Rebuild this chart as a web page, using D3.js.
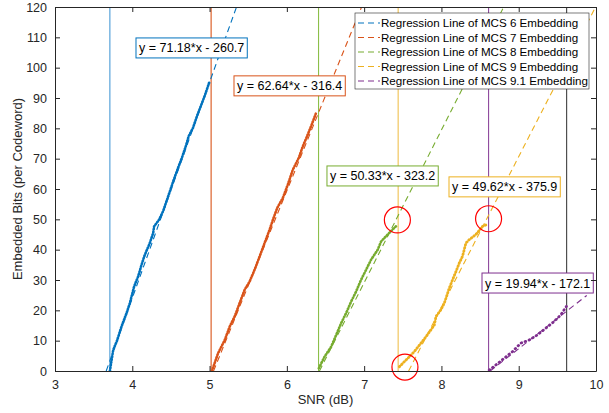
<!DOCTYPE html>
<html>
<head>
<meta charset="utf-8">
<script src="https://cdn.jsdelivr.net/npm/d3@7"></script>
<style>
  body { margin: 0; background: #fff; }
  svg text { font-family: "Liberation Sans", Arial, Helvetica, sans-serif; fill: #262626; }
</style>
</head>
<body>
<div id="chart"></div>
<script>
// series names and colours
var seriesNames = ["MCS 6", "MCS 7", "MCS 8", "MCS 9", "MCS 9.1"];
var seriesColors = ["#0072BD", "#D95319", "#77AC30", "#EDB120", "#7E2F8E"];

var mcs6 = [[3.71,0],[3.753,6.9],[3.805,10.2],[3.861,14.7],[3.926,19.1],[3.969,22.4],[4.024,27.9],[4.076,31.2],[4.133,36.1],[4.162,38.3],[4.227,42.2],[4.27,45.5],[4.283,47.7],[4.347,49.9],[4.399,52.7],[4.443,56.0],[4.494,59.8],[4.537,63.1],[4.593,67.0],[4.649,70.8],[4.692,74.1],[4.731,77.5],[4.786,80.2],[4.838,84.1],[4.895,87.9],[4.937,90.7],[5.002,95.6]];
var mcs7 = [[5.03,0],[5.109,5.8],[5.196,10.2],[5.26,14.6],[5.325,18.0],[5.389,22.4],[5.454,26.8],[5.518,29.5],[5.583,33.4],[5.648,37.8],[5.712,42.2],[5.777,46.6],[5.82,49.9],[5.876,53.8],[5.949,57.1],[6.013,61.5],[6.078,66.4],[6.155,70.3],[6.207,74.1],[6.263,77.5],[6.315,80.8],[6.38,85.2]];
var mcs8 = [[6.414,0.9],[6.487,4.7],[6.573,8.0],[6.638,11.9],[6.703,15.8],[6.767,19.1],[6.832,22.9],[6.896,26.2],[6.961,30.1],[7.026,33.4],[7.09,36.7],[7.176,40.0],[7.219,42.7],[7.305,45.0],[7.391,47.2],[7.42,47.9]];
var mcs9 = [[7.456,1.4],[7.52,3.1],[7.585,4.7],[7.649,6.4],[7.736,9.2],[7.80,11.3],[7.865,13.6],[7.908,15.2],[7.93,18.0],[7.994,20.2],[8.037,22.4],[8.059,24.0],[8.101,27.3],[8.145,30.1],[8.188,32.8],[8.231,35.6],[8.273,37.8],[8.295,40.0],[8.317,42.2],[8.36,43.3],[8.446,45.0],[8.532,47.7],[8.59,48.3]];
var mcs91 = [[8.618,0.3],[8.705,2.0],[8.812,4.2],[8.919,6.4],[9.027,9.2],[9.135,10.2],[9.242,11.9],[9.35,14.1],[9.457,16.3],[9.544,18.5],[9.617,21.3]];
var seriesPoints = [mcs6, mcs7, mcs8, mcs9, mcs91];

// regression fits: slope, intercept, x end of drawn line
var slopes = [71.18, 62.64, 50.33, 49.62, 19.94];
var intercepts = [-260.7, -316.4, -323.2, -375.9, -172.1];
var fitEnds = [5.35, 6.97, 8.81, 9.99, 9.88];

// vertical threshold lines
var thresholds = [3.71, 5.02, 6.41, 7.44, 8.61, 9.62];
var thresholdColors = ["#4A9BD6", "#D95319", "#8CBF4A", "#F0C050", "#8E4A9E", "#404040"];

// annotation boxes: top-left corner in data units
var labelPos = [[4.048, 109.8], [5.316, 97.3], [6.519, 67.6], [8.098, 64.0], [8.525, 32.3]];

// red circles (data units)
var circles = [[7.43, 49.8], [8.61, 50.2], [7.528, 1.3]];

var xTicks = [3, 4, 5, 6, 7, 8, 9, 10];
var yTicks = d3.range(0, 121, 10);

var width = 609, height = 413;
var margin = { top: 7, right: 13, bottom: 42, left: 55 };
var plotW = width - margin.left - margin.right;
var plotH = height - margin.top - margin.bottom;

var svg = d3.select("#chart").append("svg")
  .attr("width", width)
  .attr("height", height);

var x = d3.scaleLinear().domain([3, 10]).range([0, plotW]);
var y = d3.scaleLinear().domain([0, 120]).range([plotH, 0]);

svg.append("defs").append("clipPath").attr("id", "clip")
  .append("rect").attr("width", plotW).attr("height", plotH);

var chart = svg.append("g")
  .attr("transform", "translate(" + margin.left + "," + margin.top + ")");

var plot = chart.append("g").attr("clip-path", "url(#clip)");

// threshold lines
plot.selectAll(".thr").data(thresholds).enter().append("line")
  .attr("x1", d => x(d)).attr("x2", d => x(d))
  .attr("y1", 0).attr("y2", plotH)
  .attr("stroke", (d, i) => thresholdColors[i])
  .attr("stroke-width", 1.1);

var line = d3.line().x(d => x(d[0])).y(d => y(d[1]));

// measured points, drawn as dense dot markers
var dotPattern = ["0.8 2", "0.8 2", "0.8 2.2", "0.6 2.6", "0.6 3.6"];
seriesPoints.forEach(function(pts, i) {
  plot.append("path")
    .attr("d", line(pts))
    .attr("fill", "none")
    .attr("stroke", seriesColors[i])
    .attr("stroke-width", i >= 3 ? 2.8 : 2.6)
    .attr("stroke-linecap", "round")
    .attr("stroke-dasharray", dotPattern[i]);
});

// regression lines
slopes.forEach(function(m, i) {
  var x0 = -intercepts[i] / m;
  var x1 = fitEnds[i];
  plot.append("path")
    .attr("d", line([[x0, 0], [x1, m * x1 + intercepts[i]]]))
    .attr("fill", "none")
    .attr("stroke", seriesColors[i])
    .attr("stroke-width", 1.1)
    .attr("stroke-dasharray", "6 4");
});

// red circles
chart.selectAll(".circ").data(circles).enter().append("circle")
  .attr("cx", d => x(d[0])).attr("cy", d => y(d[1]))
  .attr("r", 13)
  .attr("fill", "none")
  .attr("stroke", "#FF0000")
  .attr("stroke-width", 1.2);

// annotation labels
slopes.forEach(function(m, i) {
  var txt = "y = " + m.toFixed(2) + "*x - " + (-intercepts[i]).toFixed(1);
  var g = chart.append("g")
    .attr("transform", "translate(" + x(labelPos[i][0]) + "," + y(labelPos[i][1]) + ")");
  var rect = g.append("rect")
    .attr("height", 20)
    .attr("fill", "#fff")
    .attr("stroke", seriesColors[i])
    .attr("stroke-width", 1);
  var t = g.append("text")
    .attr("x", 3)
    .attr("y", 14.5)
    .style("font-size", "12.5px")
    .style("fill", "#000")
    .text(txt);
  rect.attr("width", t.node().getComputedTextLength() + 6);
});

// axes with inward ticks on all four sides
var axisColor = "#262626";
function styleAxis(g) {
  g.selectAll("path").attr("stroke", axisColor);
  g.selectAll("line").attr("stroke", axisColor);
  g.selectAll("text").style("font-size", "12.5px").style("fill", axisColor);
}
chart.append("g").attr("transform", "translate(0," + plotH + ")")
  .call(d3.axisBottom(x).tickValues(xTicks).tickSizeInner(-5).tickSizeOuter(0).tickPadding(9).tickFormat(d3.format("d")))
  .call(styleAxis);
chart.append("g")
  .call(d3.axisLeft(y).tickValues(yTicks).tickSizeInner(-5).tickSizeOuter(0).tickPadding(8))
  .call(styleAxis);
chart.append("g")
  .call(d3.axisTop(x).tickValues(xTicks).tickSizeInner(-5).tickSizeOuter(0).tickFormat(""))
  .call(styleAxis);
chart.append("g").attr("transform", "translate(" + plotW + ",0)")
  .call(d3.axisRight(y).tickValues(yTicks).tickSizeInner(-5).tickSizeOuter(0).tickFormat(""))
  .call(styleAxis);

// axis labels
svg.append("text")
  .attr("x", margin.left + plotW / 2)
  .attr("y", 404)
  .attr("text-anchor", "middle")
  .style("font-size", "13px")
  .text("SNR (dB)");
svg.append("text")
  .attr("transform", "translate(22," + (margin.top + plotH / 2) + ") rotate(-90)")
  .attr("text-anchor", "middle")
  .style("font-size", "13px")
  .text("Embedded Bits (per Codeword)");

// legend
var legend = svg.append("g").attr("transform", "translate(355,13)");
legend.append("rect")
  .attr("width", 234).attr("height", 76)
  .attr("fill", "#fff")
  .attr("stroke", axisColor)
  .attr("stroke-width", 0.6);
seriesNames.forEach(function(name, i) {
  var row = legend.append("g").attr("transform", "translate(0," + (10 + i * 14.5) + ")");
  row.append("line")
    .attr("x1", 3).attr("x2", 25)
    .attr("stroke", seriesColors[i])
    .attr("stroke-width", 1.1)
    .attr("stroke-dasharray", "6 4");
  row.append("text")
    .attr("x", 26).attr("y", 4)
    .style("font-size", "11.6px")
    .style("fill", "#000")
    .text("Regression Line of " + name + " Embedding");
});
</script>
</body>
</html>
